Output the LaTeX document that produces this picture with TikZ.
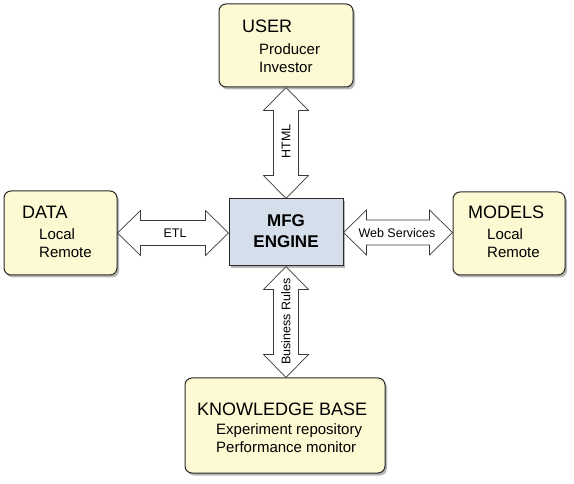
\documentclass[tikz,border=0pt]{standalone}
\usepackage{fontspec}
\setmainfont{Liberation Sans}
\usetikzlibrary{shadows,calc}
\definecolor{boxyellow}{HTML}{FCF9D3}
\definecolor{engineblue}{HTML}{D5DFEC}
\definecolor{edgec}{HTML}{2A2A2A}
\definecolor{arrowc}{HTML}{3A3A3A}
\begin{document}
\begin{tikzpicture}[x=1pt,y=-1pt,
  shadowed/.style={drop shadow={shadow xshift=2pt,shadow yshift=-2.5pt,opacity=0.4,fill=black!70}},
  box/.style={draw=edgec,line width=1pt,fill=boxyellow,rounded corners=7pt,inner sep=0pt,shadowed},
  engbox/.style={draw=edgec,line width=1pt,fill=engineblue,inner sep=0pt,shadowed},
  ttl/.style={anchor=base west,inner sep=0pt,font=\fontsize{18}{20}\selectfont},
  sub/.style={anchor=base west,inner sep=0pt,font=\fontsize{15}{18}\selectfont},
  lbl/.style={inner sep=0pt,font=\fontsize{12.5}{14}\selectfont},
  arrowshape/.style={draw=arrowc,line width=0.7pt,fill=white,line join=miter}]
\useasboundingbox (0,0) rectangle (574,484);

% boxes
\node[box,minimum width=134pt,minimum height=83pt] (user) at (286,45.5) {};
\node[box,minimum width=113pt,minimum height=84pt] (data) at (60.5,233) {};
\node[box,minimum width=112pt,minimum height=83pt] (models) at (509,233.5) {};
\node[box,minimum width=200pt,minimum height=95pt] (kb) at (285,425.5) {};
\node[engbox,minimum width=114pt,minimum height=67pt] (engine) at (286,232.5) {};

% box texts
\node[ttl] (usert) at (242,33) {USER};
\node[sub] (user1) at (259,55) {Producer};
\node[sub] (user2) at (259,73) {Investor};

\node[ttl] (datat) at (22,219) {DATA};
\node[sub] (data1) at (39,240) {Local};
\node[sub] (data2) at (39,258) {Remote};

\node[ttl] (modelst) at (468,219) {MODELS};
\node[sub] (models1) at (487,240) {Local};
\node[sub] (models2) at (487,258) {Remote};

\node[ttl] (kbt) at (197,415) {KNOWLEDGE BASE};
\node[sub] (kb1) at (216,434) {Experiment repository};
\node[sub] (kb2) at (216,453) {Performance monitor};

\node[anchor=base,inner sep=0pt,font=\fontsize{17}{20}\selectfont\bfseries] (eng1) at (286,227) {MFG};
\node[anchor=base,inner sep=0pt,font=\fontsize{17}{20}\selectfont\bfseries] (eng2) at (286,248) {ENGINE};

% horizontal double arrows
\draw[arrowshape] let \p1=(data.east), \p2=(engine.west) in
  (\x1,\y1) -- ++(23pt,22.5pt) -- ++(0pt,-10pt) -- (\x2-23pt,\y1+12.5pt) -- ++(0pt,10pt)
  -- (\x2,\y1) -- ++(-23pt,-22.5pt) -- ++(0pt,10pt) -- (\x1+23pt,\y1-12.5pt) -- ++(0pt,-10pt) -- cycle;
\draw[arrowshape] let \p1=(engine.east), \p2=(models.west) in
  (\x1,\y1) -- ++(23pt,22.5pt) -- ++(0pt,-10pt) -- (\x2-23pt,\y1+12.5pt) -- ++(0pt,10pt)
  -- (\x2,\y1) -- ++(-23pt,-22.5pt) -- ++(0pt,10pt) -- (\x1+23pt,\y1-12.5pt) -- ++(0pt,-10pt) -- cycle;

% vertical double arrows
\draw[arrowshape] let \p1=(user.south), \p2=(engine.north) in
  (\x1,\y1) -- ++(22.5pt,-23pt) -- ++(-10pt,0pt) -- (\x1+12.5pt,\y2+23pt) -- ++(10pt,0pt)
  -- (\x1,\y2) -- ++(-22.5pt,23pt) -- ++(10pt,0pt) -- (\x1-12.5pt,\y1-23pt) -- ++(-10pt,0pt) -- cycle;
\draw[arrowshape] let \p1=(engine.south), \p2=(kb.north) in
  (\x1,\y1) -- ++(22.5pt,-23pt) -- ++(-10pt,0pt) -- (\x1+12.5pt,\y2+23pt) -- ++(10pt,0pt)
  -- (\x1,\y2) -- ++(-22.5pt,23pt) -- ++(10pt,0pt) -- (\x1-12.5pt,\y1-23pt) -- ++(-10pt,0pt) -- cycle;

% arrow labels
\node[lbl,anchor=base] (etl) at (175,237.5) {ETL};
\node[lbl,anchor=base] (ws) at (397,237.5) {Web Services};
\node[lbl,rotate=90] (html) at (286,141.5) {HTML};
\node[lbl,rotate=90] (br) at (286,321.5) {Business Rules};
\end{tikzpicture}
\end{document}
